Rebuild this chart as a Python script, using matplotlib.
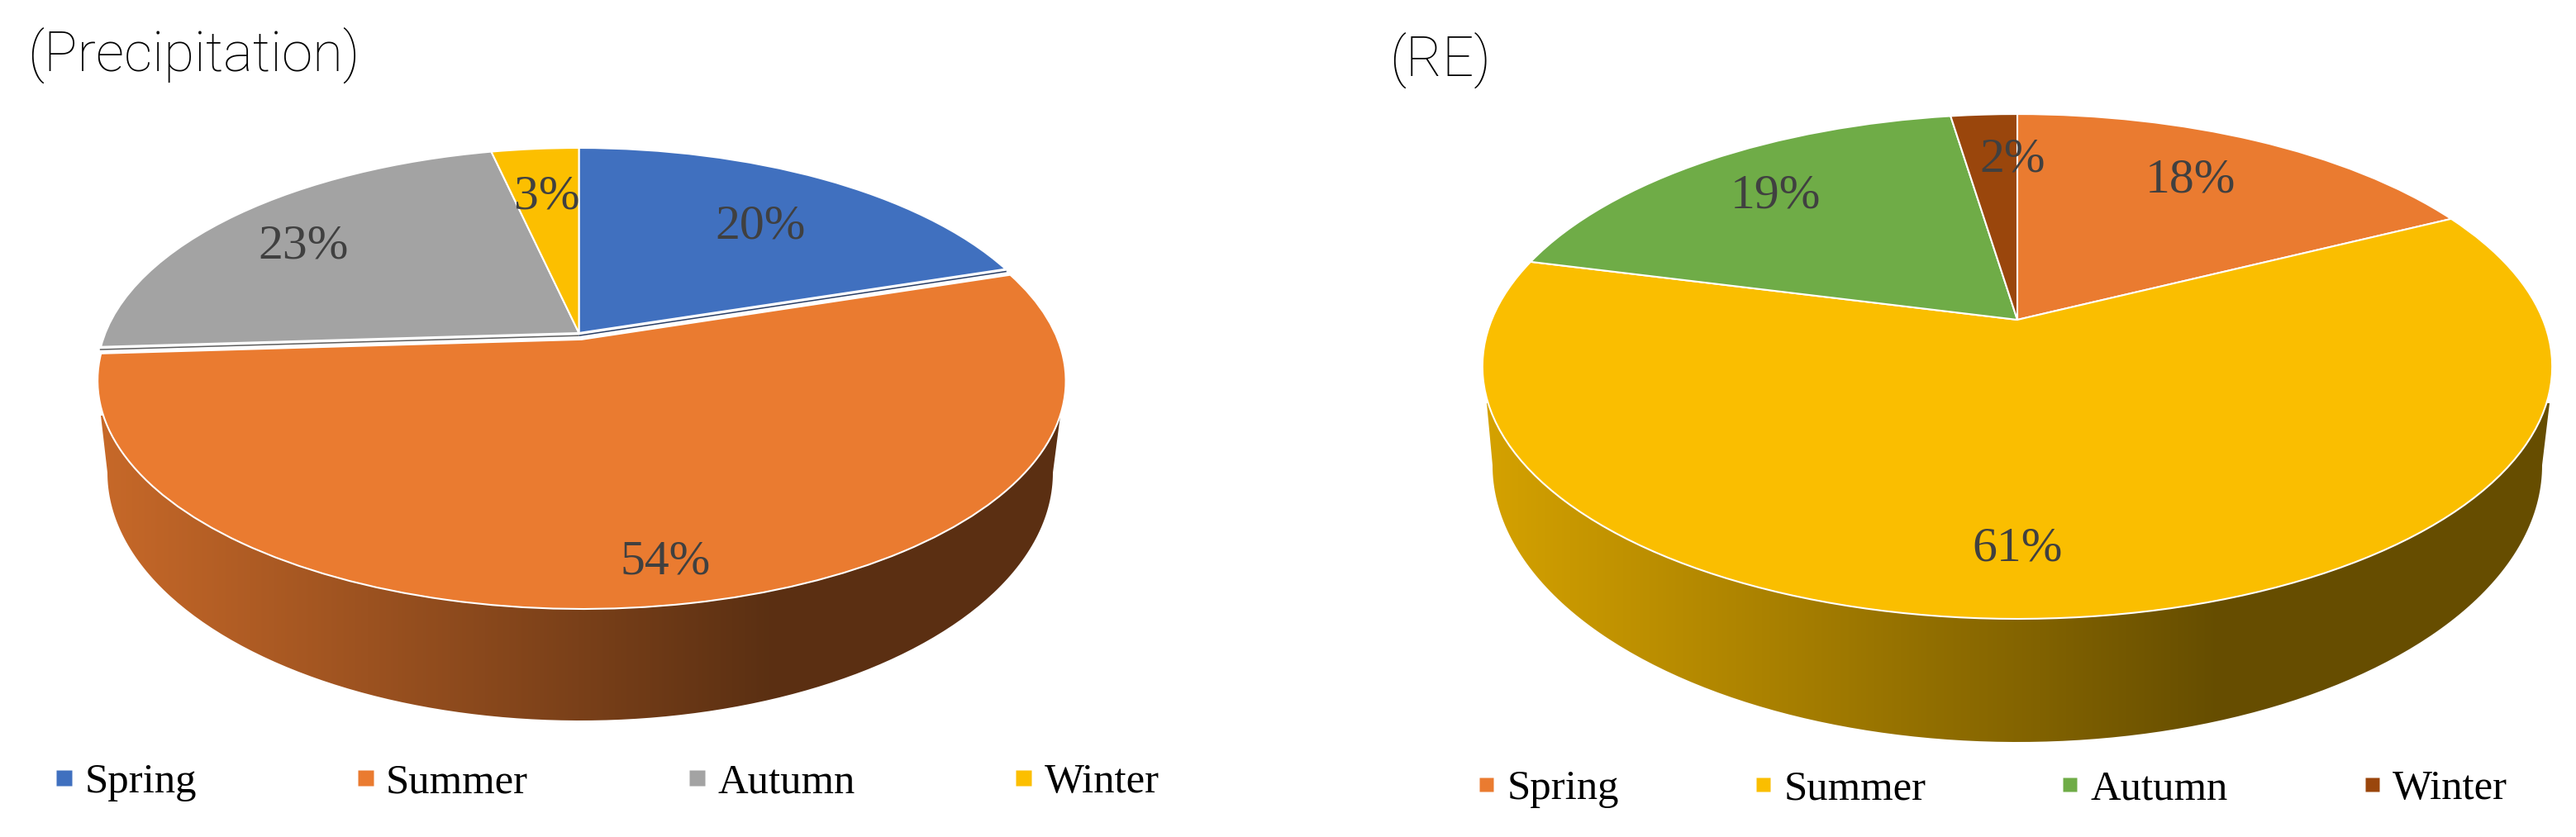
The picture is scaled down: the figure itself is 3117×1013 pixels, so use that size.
import numpy as np
import matplotlib
matplotlib.use("Agg")
import matplotlib.pyplot as plt
from matplotlib.lines import Line2D
from matplotlib.patches import PathPatch
from matplotlib.path import Path
from matplotlib.transforms import Transform

# ---- data ----
seasons = ["Spring", "Summer", "Autumn", "Winter"]
precipitation = [20.0, 54.0, 22.51, 3.49]
re_values = [17.6, 61.4, 18.6, 2.4]
precip_colors = ["#4070BF", "#EA7B30", "#A3A3A3", "#FCBF00"]
re_colors = ["#EA7B30", "#FABE00", "#6FAC47", "#9A460C"]

W, H = 3117, 1013
fig = plt.figure(figsize=(W / 100, H / 100), dpi=100, facecolor="white")
ax = fig.add_axes([0, 0, 1, 1])


class Perspective(Transform):
    """Maps the unit pie onto the tilted disc, in figure pixels."""
    input_dims = output_dims = 2
    is_separable = False
    has_inverse = False

    def __init__(self, cx, cy, a, b, k):
        super().__init__()
        self.cx, self.cy, self.a, self.b, self.k = cx, cy, a, b, k

    def transform_non_affine(self, values):
        values = np.asarray(values, float)
        u, v = values[:, 0], values[:, 1]
        d = 1 + self.k * v
        return np.column_stack([self.cx + self.b * u / d, self.cy - self.a * v / d])


def panel(values, colors, persp, wall, shade, explode, label_xy, gap_colors):
    disc = Perspective(*persp)
    wedges, _, autotexts = ax.pie(
        values, colors=colors, explode=explode, startangle=90, counterclock=False,
        autopct="%.0f%%", radius=1,
        wedgeprops=dict(edgecolor="white", linewidth=1.5, zorder=3, joinstyle="round"),
        textprops=dict(family="Liberation Serif", fontsize=43, color="#404040", zorder=5),
    )
    for w in wedges:
        w.set_transform(disc + ax.transData)
    for t, (x, y) in zip(autotexts, label_xy):
        t.set_position((x, y))
        t.set_ha("center")
        t.set_va("baseline")

    # thin dark side faces seen through the gap round the pulled-out slice
    if max(explode) > 0:
        for bound, colour in zip(gap_colors[0], gap_colors[1]):
            th = np.radians(getattr(wedges[bound[0]], bound[1]))
            ax.plot([0, np.cos(th)], [-0.012, np.sin(th) - 0.012], color=colour, lw=1.1,
                    solid_capstyle="butt", zorder=2, transform=disc + ax.transData)

    # side wall: gradient clipped to the outline under the front rim
    (lx, ly), (rx, ry), (ecx, ecy, ea, eb) = wall
    t = np.linspace(np.pi, 0, 200)
    outline = np.vstack([[lx, ly],
                         np.column_stack([ecx + ea * np.cos(t), ecy + eb * np.sin(t)]),
                         [rx, ry], [lx, ly]])
    xs = np.linspace(lx, rx, 400)
    factor = np.interp(xs, shade[0], shade[1])
    base = np.array(matplotlib.colors.to_rgb(colors[1]))
    img = ax.imshow((factor[:, None] * base)[None, :, :], extent=(lx, rx, ecy + eb + 2, ly - 2),
                    aspect="auto", interpolation="bilinear", zorder=1)
    img.set_clip_path(PathPatch(Path(outline), transform=ax.transData))


panel(precipitation, precip_colors,
      persp=(700.5, 403, 264.3, 573, 0.18),
      wall=((122, 503), (1283, 503), (702, 572, 572, 300)),
      shade=([122, 930], [0.85, 0.39]),
      explode=[0, 0.03, 0, 0],
      label_xy=[(920, 288), (805, 694), (367, 312), (662, 252)],
      gap_colors=([(0, "theta1"), (2, "theta2")], ["#2A3F66", "#5E5E5E"]))

panel(re_values, re_colors,
      persp=(2441, 387, 295, 636, 0.185),
      wall=((1799, 488), (3085, 488), (2441, 563, 635, 335)),
      shade=([1799, 2680], [0.85, 0.41]),
      explode=[0, 0, 0, 0],
      label_xy=[(2650, 232), (2441, 678), (2148, 251), (2435, 207)],
      gap_colors=([], []))

ax.set_aspect("auto")
ax.set_xlim(0, W)
ax.set_ylim(H, 0)
ax.set_xticks([])
ax.set_yticks([])
ax.set_frame_on(False)

# titles
title_kw = dict(family=["Roboto", "DejaVu Sans"], fontsize=48.5, fontweight="light",
                color="black", va="baseline", ha="left")
ax.text(33, 86, "(Precipitation)", **title_kw)
ax.text(1681, 92, "(RE)", **title_kw)


# legends
def legend(colors, anchor, marker_px, spacing):
    handles = [Line2D([], [], marker="s", ls="", ms=marker_px * 0.72, mfc=c, mec="none") for c in colors]
    return ax.legend(handles, seasons, ncol=4, loc="lower left", bbox_to_anchor=anchor,
                     bbox_transform=ax.transData, frameon=False, borderpad=0, borderaxespad=0,
                     handlelength=0.4, handletextpad=0.3, columnspacing=spacing,
                     prop=dict(family="Liberation Serif", size=36.5), labelcolor="black")


ax.add_artist(legend(precip_colors, (67, 970), 19, 3.82))
legend(re_colors, (1788, 978), 17, 3.23)

fig.savefig("out.png", dpi=100, facecolor="white")
